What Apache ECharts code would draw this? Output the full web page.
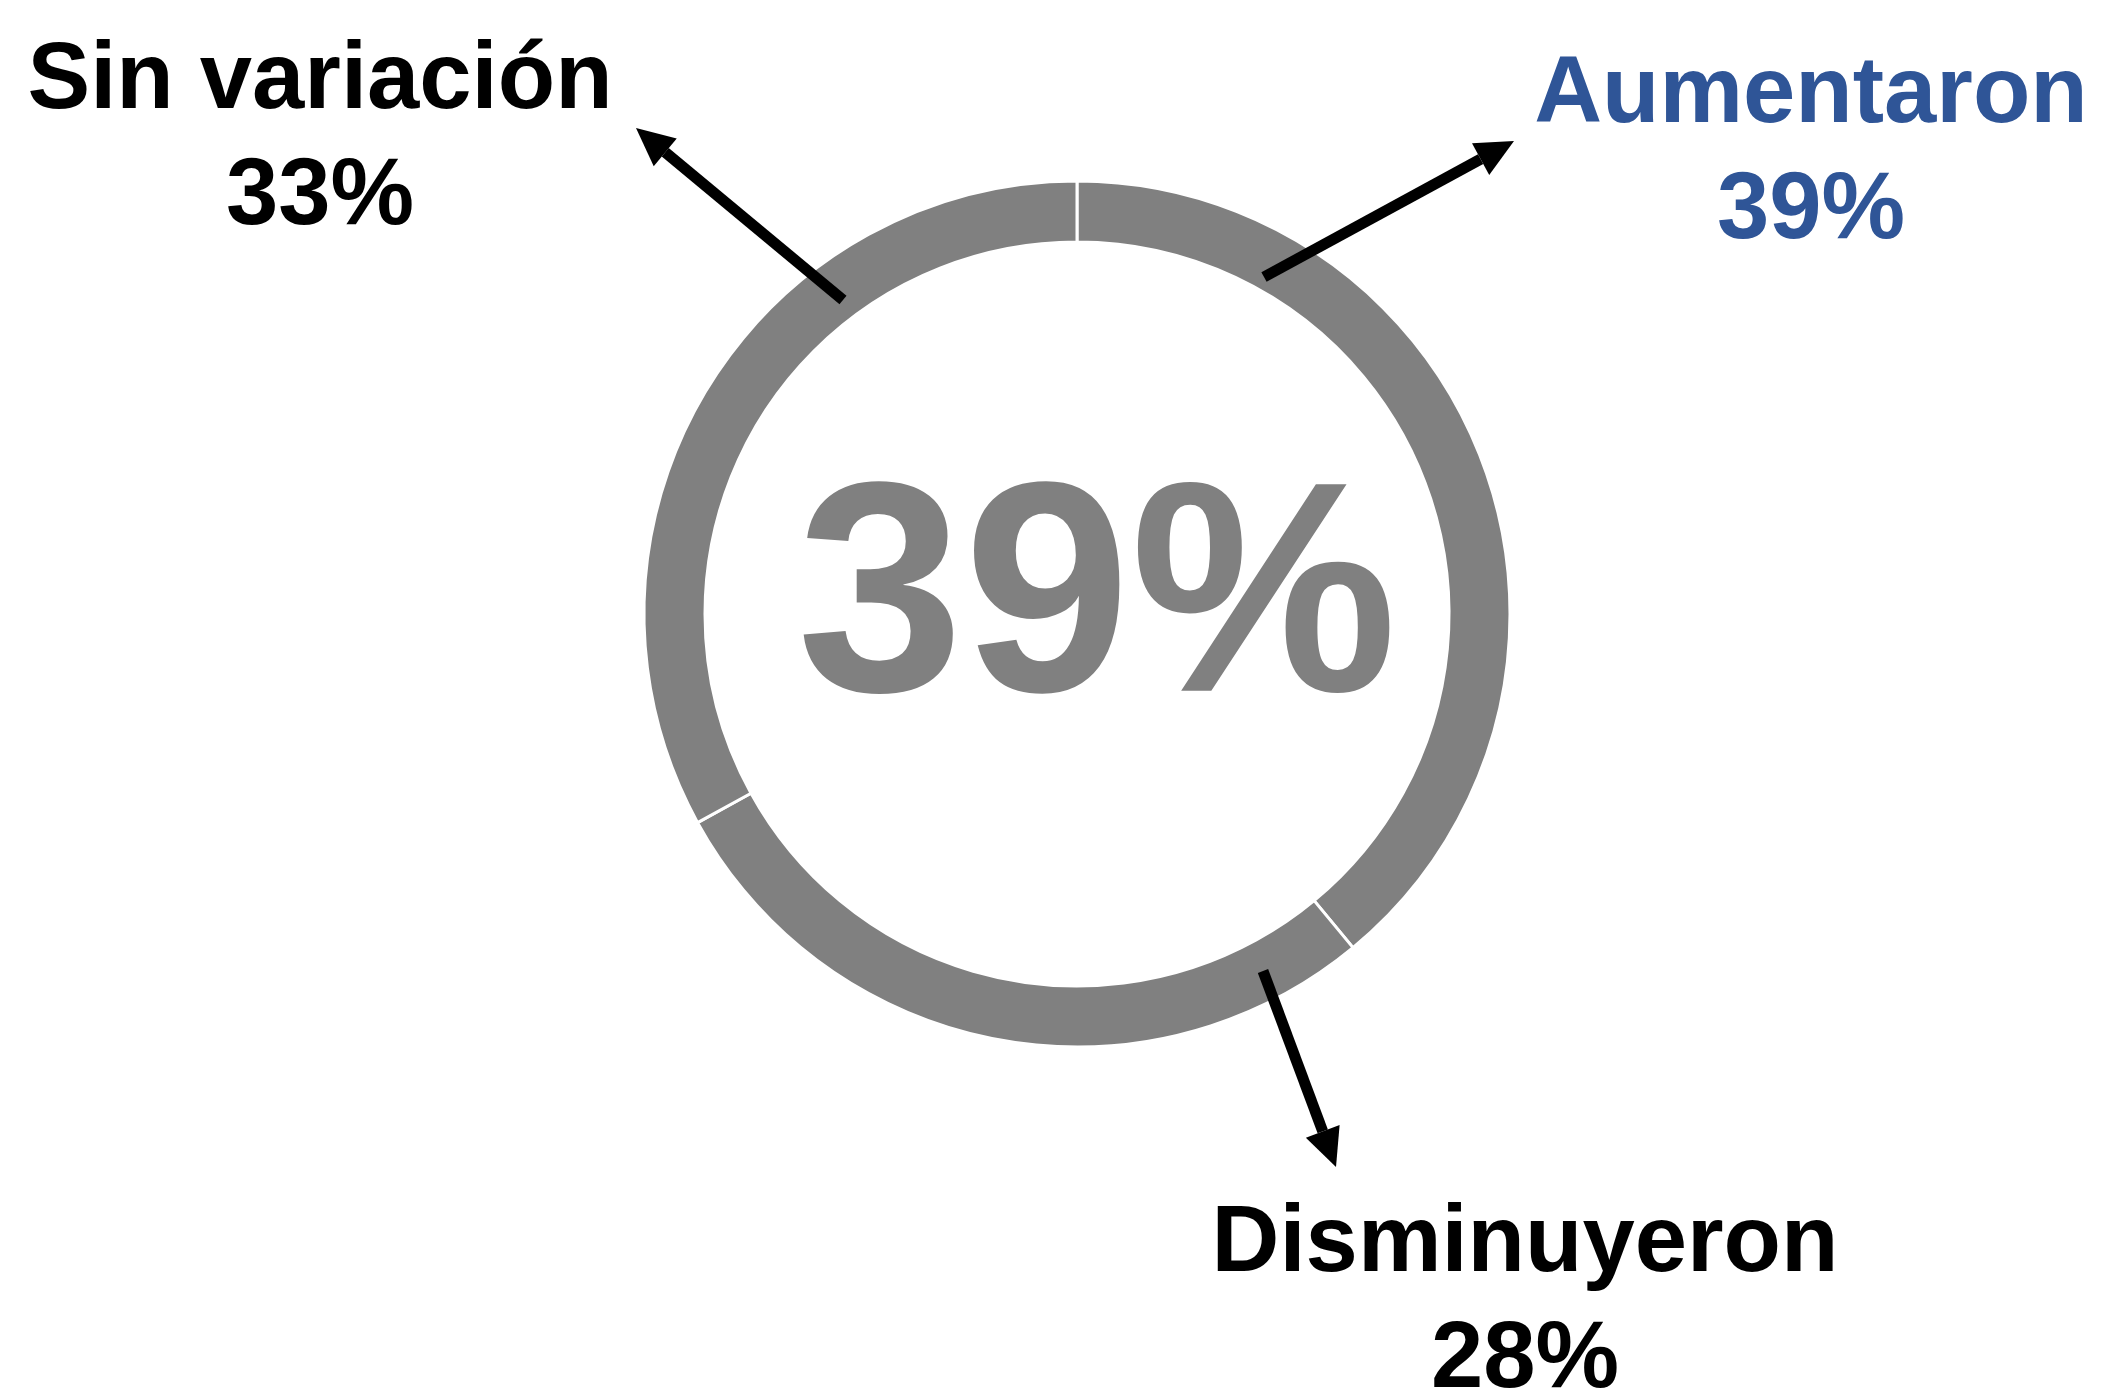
<!DOCTYPE html>
<html>
<head>
    <meta charset="utf-8">
    <script src="https://cdn.jsdelivr.net/npm/echarts@6/dist/echarts.min.js"></script>
    <style>
        html, body { margin: 0; padding: 0; background: #fff; }
    </style>
</head>
<body>
    <div id="main" style="width:2103px; height:1389px;"></div>
</body>
	<script type="text/javascript">
		var categories = ['Aumentaron', 'Disminuyeron', 'Sin variación'];
		var values = [39, 28, 33];
		var highlight = 'Aumentaron';

		// where each label block sits (centre of the two lines)
		var labelPos = [[1811, 154], [1525, 1303], [320, 140]];
		var labelColor = ['#2F5597', '#000000', '#000000'];
		// arrows: tail -> tip
		var arrows = [
			[[1264, 277], [1514, 141]],
			[[1263, 971], [1336, 1167]],
			[[843, 300], [636, 128]]
		];

		var myChart = echarts.init(document.getElementById('main'));

		var data = [];
		for (var i = 0; i < categories.length; i++) {
			data.push({
				name: categories[i],
				value: values[i],
				label: { color: labelColor[i] }
			});
		}

		var graphics = [];
		arrows.forEach(function (a) {
			var x1 = a[0][0], y1 = a[0][1], x2 = a[1][0], y2 = a[1][1];
			var ang = Math.atan2(y2 - y1, x2 - x1);
			var len = 38, half = 18;
			var bx = x2 - len * Math.cos(ang), by = y2 - len * Math.sin(ang);
			var px = -Math.sin(ang), py = Math.cos(ang);
			graphics.push({
				type: 'line',
				shape: { x1: x1, y1: y1, x2: bx, y2: by },
				style: { stroke: '#000', lineWidth: 11 },
				z: 10
			});
			graphics.push({
				type: 'polygon',
				shape: { points: [[x2, y2], [bx + px * half, by + py * half], [bx - px * half, by - py * half]] },
				style: { fill: '#000' },
				z: 10
			});
		});
		var hi = categories.indexOf(highlight);
		graphics.push({
			type: 'text',
			x: 1097,
			y: 608,
			style: {
				text: values[hi] + '%',
				fill: '#808080',
				font: 'bold 300px "Liberation Sans", Arial, sans-serif',
				textAlign: 'center',
				textVerticalAlign: 'middle'
			},
			z: 5
		});

		option = {
			backgroundColor: '#ffffff',
			animation: false,
			graphic: graphics,
			series: [{
				type: 'pie',
				center: [1077, 614],
				radius: [372, 433],
				startAngle: 90,
				clockwise: true,
				data: data,
				itemStyle: { color: '#808080', borderColor: '#ffffff', borderWidth: 3 },
				emphasis: { disabled: true },
				label: {
					show: true,
					formatter: '{b}\n{c}%',
					fontFamily: '"Liberation Sans", Arial, sans-serif',
					fontWeight: 'bold',
					fontSize: 94,
					lineHeight: 116,
					align: 'center'
				},
				labelLine: { show: false },
				labelLayout: function (params) {
					var p = labelPos[params.dataIndex];
					return { x: p[0], y: p[1], align: 'center', verticalAlign: 'middle' };
				}
			}]
		};
		myChart.setOption(option);
    </script>
</html>
